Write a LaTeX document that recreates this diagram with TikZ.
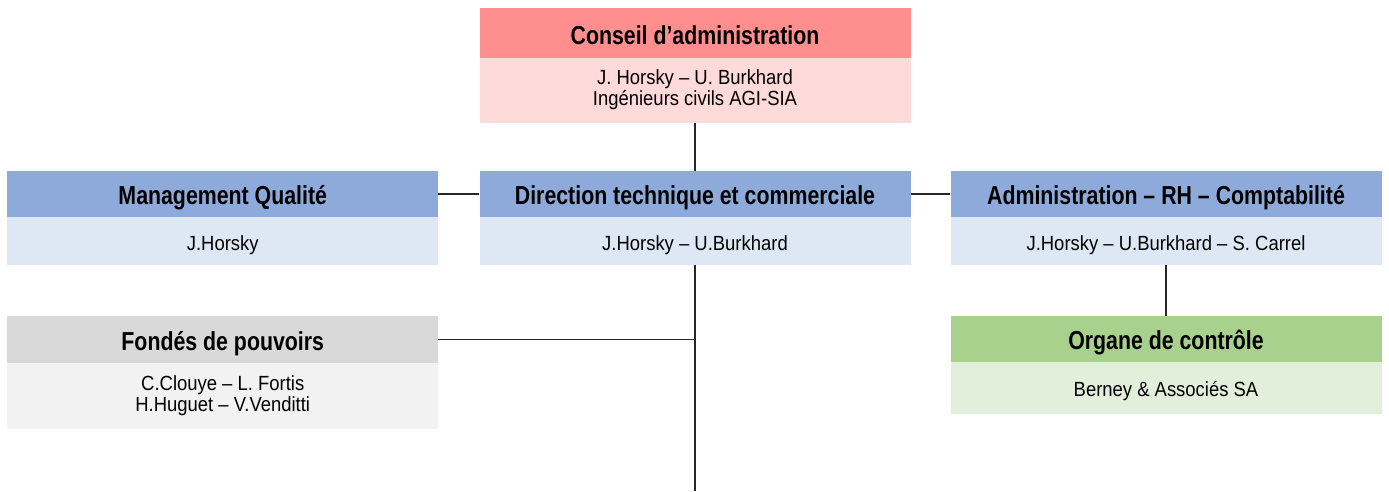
\documentclass[tikz,border=0pt]{standalone}
\usepackage{fontspec}
\usepackage{xcolor}
\setmainfont{Liberation Sans}
\newfontfamily\headfont{Liberation Sans}[FakeStretch=0.82]
\newfontfamily\namefont{Liberation Sans}[FakeStretch=0.9]
\usetikzlibrary{positioning}

\definecolor{redhead}{HTML}{FF8F8F}
\definecolor{redbody}{HTML}{FFDADA}
\definecolor{bluehead}{HTML}{8EAADB}
\definecolor{bluebody}{HTML}{DEE8F4}
\definecolor{grayhead}{HTML}{D9D9D9}
\definecolor{graybody}{HTML}{F2F2F2}
\definecolor{greenhead}{HTML}{A9D18E}
\definecolor{greenbody}{HTML}{E2EFDA}

\tikzset{
    head/.style={minimum width=431pt, minimum height=46pt, inner sep=0pt,
        text height=25pt, text depth=4pt,
        font=\headfont\bfseries\fontsize{26}{30}\selectfont},
    names/.style={minimum width=431pt, minimum height=47.5pt, inner sep=0pt,
        text height=22pt, text depth=4pt,
        align=center, font=\namefont\fontsize{20.5}{21.4}\selectfont},
    link/.style={draw=black!85, line width=1.2pt}
}

\begin{document}
\begin{tikzpicture}[x=1pt,y=-1pt]
    \useasboundingbox (0,0) rectangle (1389,491);
    % top
    \node [head, fill=redhead, minimum height=49.5pt, text height=28pt] (ca) at (695,32.75) {Conseil d’administration};
    \node [names, fill=redbody, minimum height=65pt, text height=35pt, below=0pt of ca] (cab) {J. Horsky – U. Burkhard\\Ingénieurs civils AGI-SIA};
    % middle row
    \node [head, fill=bluehead] (mq) at (222.75,194) {Management Qualité};
    \node [names, fill=bluebody, below=0pt of mq] (mqb) {J.Horsky};
    \node [head, fill=bluehead] (dir) at (695,194) {Direction technique et commerciale};
    \node [names, fill=bluebody, below=0pt of dir] (dirb) {J.Horsky – U.Burkhard};
    \node [head, fill=bluehead] (adm) at (1166,194) {Administration – RH – Comptabilité};
    \node [names, fill=bluebody, below=0pt of adm] (admb) {J.Horsky – U.Burkhard – S. Carrel};
    % bottom row
    \node [head, fill=grayhead, minimum height=47pt] (fp) at (222.75,339.5) {Fondés de pouvoirs};
    \node [names, fill=graybody, minimum height=66pt, text height=35pt, below=0pt of fp] (fpb) {C.Clouye – L. Fortis\\H.Huguet – V.Venditti};
    \node [head, fill=greenhead] (oc) at (1166,339) {Organe de contrôle};
    \node [names, fill=greenbody, minimum height=52pt, text height=21pt, below=0pt of oc] (ocb) {Berney \& Associés SA};
    \coordinate (bottom) at (695,491);
    % links
    \draw [link] (cab) -- (dir);
    \draw [link] (mq) -- (dir);
    \draw [link] (dir) -- (adm);
    \draw [link] (dirb) -- (bottom);
    \draw [link] (fp) -- (fp -| bottom);
    \draw [link] (admb) -- (oc);
\end{tikzpicture}
\end{document}
